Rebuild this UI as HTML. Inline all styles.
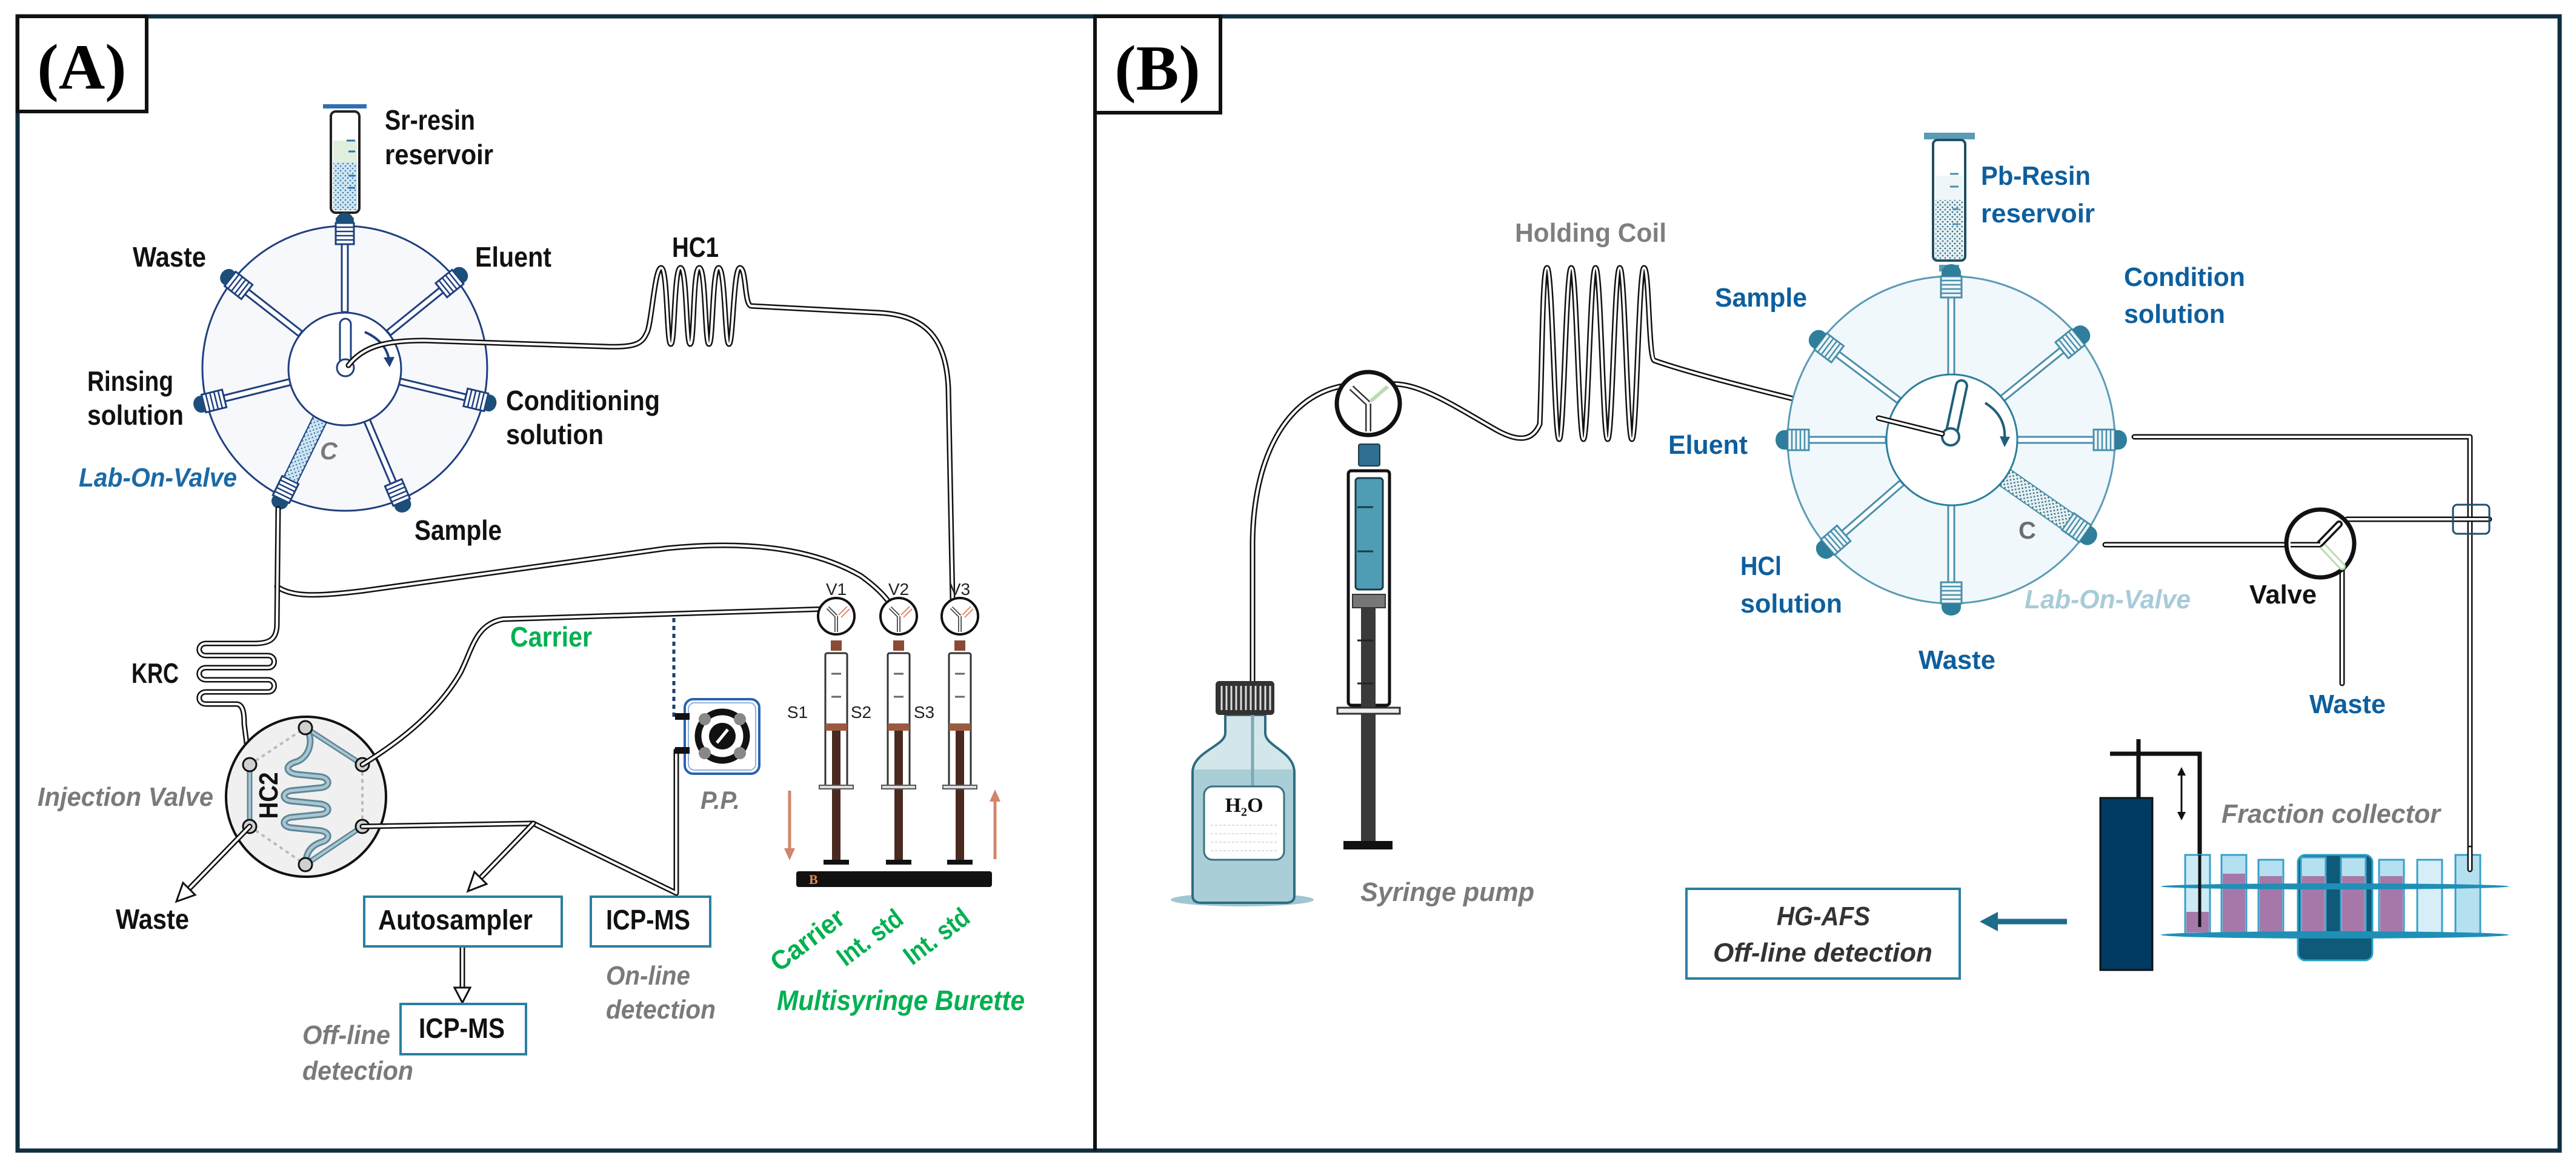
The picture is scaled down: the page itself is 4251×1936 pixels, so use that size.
<!DOCTYPE html>
<html><head><meta charset="utf-8"><style>
html,body{margin:0;padding:0;background:#fff}
svg{display:block}
text{font-family:"Liberation Sans",sans-serif;font-weight:bold}
.o{fill:none;stroke:#111;stroke-width:9;stroke-linecap:round;stroke-linejoin:round}
.i{fill:none;stroke:#fff;stroke-width:4;stroke-linecap:round;stroke-linejoin:round}
.gi{fill:#7a7a7a;font-style:italic}
.bl{fill:#0d5f9e}
.gr{fill:#00b050}
</style></head><body>
<svg width="4251" height="1936" viewBox="0 0 4251 1936" xmlns="http://www.w3.org/2000/svg">
<defs>
<pattern id="dots" width="8" height="8" patternUnits="userSpaceOnUse"><rect width="8" height="8" fill="#cfe6f2"/><circle cx="2" cy="2" r="1.3" fill="#3b78a8"/><circle cx="6" cy="6" r="1.3" fill="#3b78a8"/></pattern>
<pattern id="dotsB" width="8" height="8" patternUnits="userSpaceOnUse"><rect width="8" height="8" fill="#e6f1f5"/><circle cx="2" cy="2" r="1.4" fill="#3a6f80"/><circle cx="6" cy="6" r="1.4" fill="#3a6f80"/></pattern>
<g id="portA">
<rect x="93" y="-5" width="112" height="10" fill="#fff" stroke="#1f3f7f" stroke-width="3"/>
<rect x="205" y="-15" width="35" height="30" fill="#fff" stroke="#1f3f7f" stroke-width="3"/>
<path d="M212,-15v30M219,-15v30M226,-15v30M233,-15v30" stroke="#1f3f7f" stroke-width="2.5"/>
<path d="M240,-14h5a12,14 0 0 1 0,28h-5z" fill="#1b4f7a"/>
</g>
<g id="portB">
<rect x="108" y="-5" width="127" height="10" fill="#fff" stroke="#4a8fab" stroke-width="3"/>
<rect x="235" y="-17" width="35" height="34" fill="#eef6f9" stroke="#4a8fab" stroke-width="3"/>
<path d="M242,-17v34M249,-17v34M256,-17v34M263,-17v34" stroke="#4a8fab" stroke-width="2.5"/>
<path d="M270,-16h6a14,16 0 0 1 0,32h-6z" fill="#2f7e9b"/>
</g>
<g id="syrA">
<rect x="-9" y="1057" width="18" height="17" fill="#8b4a34"/>
<rect x="-18" y="1078" width="36" height="221" fill="#fff" stroke="#333" stroke-width="3" rx="3"/>
<path d="M-8,1112h16M-8,1150h16" stroke="#666" stroke-width="3"/>
<rect x="-18" y="1194" width="36" height="12" fill="#9b5a40"/>
<rect x="-7" y="1206" width="14" height="216" fill="#4a2a20"/>
<rect x="-28" y="1296" width="56" height="6" fill="#ddd" stroke="#555" stroke-width="2"/>
<rect x="-21" y="1419" width="42" height="8" fill="#111"/>
</g>
<g id="vA">
<circle r="30" fill="#fff" stroke="#111" stroke-width="4"/>
<path d="M0,0L-14,-14M0,0L0,26" stroke="#444" stroke-width="6"/>
<path d="M0,0L-14,-14M0,0L0,26" stroke="#fff" stroke-width="2.5"/>
<path d="M4,-2L18,-16M8,2L22,-12" stroke="#e58a6a" stroke-width="2"/>
</g>
<path id="tA1" d="M575,603 C600,570 640,562 700,562 L1000,572 C1050,574 1060,566 1067,550 C1075,540 1080,442 1091,442 C1102,442 1100,568 1107,568 C1114,568 1112,442 1123,442 C1134,442 1132,568 1139,568 C1146,568 1143,442 1154,442 C1165,442 1163,568 1170,568 C1177,568 1175,442 1186,442 C1197,442 1196,568 1203,568 C1210,568 1210,442 1221,442 C1232,442 1228,505 1240,505 L1449,516 C1530,520 1561,560 1565,640 L1572,990 L1575,1005"/>
<path id="tA2" d="M459,840 L457,1030 C457,1055 445,1062 420,1062 L340,1062 C325,1062 325,1082 340,1082 L442,1082 C456,1082 456,1102 442,1102 L340,1102 C325,1102 325,1122 340,1122 L442,1122 C456,1122 456,1142 442,1142 L340,1142 C325,1142 325,1162 340,1162 L390,1162 C402,1162 403,1180 403,1195 L410,1250"/>
<path id="tA3" d="M457,968 C480,985 520,985 600,975 L1100,905 C1250,890 1350,910 1420,950 C1455,975 1470,995 1478,1012"/>
<path id="tA4" d="M598,1262 C650,1230 720,1180 760,1110 C780,1070 785,1030 830,1022 L1365,1005"/>
<path id="tA5" d="M598,1364 L880,1359 L1116,1474 L1116,1239 L1135,1239"/>
<path id="tA6" d="M880,1359 L795,1447"/>
<path id="tA7" d="M412,1364 L312,1467"/>
<path id="tA8" d="M763,1562 L763,1630"/>
<path id="tB1" d="M2067,1124 L2067,900 C2067,760 2120,650 2222,636"/>
<path id="tB2" d="M2294,634 C2340,630 2400,670 2470,710 C2510,732 2530,725 2541,700 C2545,600 2545,442 2553,442 C2562,442 2565,725 2573,725 C2581,725 2584,442 2593,442 C2602,442 2605,725 2613,725 C2621,725 2624,442 2633,442 C2642,442 2645,725 2653,725 C2661,725 2664,442 2673,442 C2682,442 2685,725 2693,725 C2701,725 2704,442 2713,442 C2722,442 2720,590 2730,595 C2800,620 3000,670 3210,716"/>
<path id="tB3" d="M3522,721 L4076,721 L4076,1435"/>
<path id="tB4" d="M3474,899 L3777,899"/>
<path id="tB5" d="M3873,857 L4108,857"/>
<path id="tB6" d="M3865,941 L3865,1128"/>
</defs>

<rect x="29" y="27" width="4195" height="1872" fill="none" stroke="#0f2f3f" stroke-width="7"/>
<line x1="1807" y1="27" x2="1807" y2="1899" stroke="#111" stroke-width="6"/>
<rect x="29" y="27" width="213" height="157" fill="#fff" stroke="#111" stroke-width="6"/>
<text x="135" y="146" text-anchor="middle" font-size="106" style="font-family:'Liberation Serif',serif">(A)</text>
<rect x="1807" y="27" width="207" height="159" fill="#fff" stroke="#111" stroke-width="6"/>
<text x="1910" y="148" text-anchor="middle" font-size="106" style="font-family:'Liberation Serif',serif">(B)</text>

<!-- ===== Panel A ===== -->
<rect x="533" y="172" width="72" height="7" fill="#2e6fb5"/>
<rect x="546" y="184" width="47" height="167" rx="8" fill="#fff" stroke="#222" stroke-width="4"/>
<rect x="550" y="232" width="39" height="36" fill="#e0f0dc"/>
<rect x="550" y="268" width="39" height="79" fill="url(#dots)"/>
<path d="M572,232h14M575,250h11M575,290h11M575,310h11" stroke="#2e6fb5" stroke-width="3"/>
<rect x="554" y="359" width="30" height="11" fill="#2e6fb5"/>
<text x="635" y="214" font-size="46" textLength="149" lengthAdjust="spacingAndGlyphs" fill="#111">Sr-resin</text>
<text x="635" y="271" font-size="46" textLength="179" lengthAdjust="spacingAndGlyphs" fill="#111">reservoir</text>

<circle cx="569" cy="608" r="235" fill="#f7f8fb" stroke="#1f3f7f" stroke-width="3"/>
<use href="#portA" transform="translate(569,608) rotate(-90)"/>
<use href="#portA" transform="translate(569,608) rotate(-142)"/>
<use href="#portA" transform="translate(569,608) rotate(-39)"/>
<use href="#portA" transform="translate(569,608) rotate(166)"/>
<use href="#portA" transform="translate(569,608) rotate(13.5)"/>
<use href="#portA" transform="translate(569,608) rotate(67)"/>
<use href="#portA" transform="translate(569,608) rotate(116)"/>
<rect x="93" y="-12" width="112" height="24" fill="url(#dots)" stroke="#1f3f7f" stroke-width="2" transform="translate(569,608) rotate(116)"/>
<circle cx="569" cy="609" r="93" fill="#fff" stroke="#1f3f7f" stroke-width="3"/>
<rect x="561" y="526" width="18" height="82" rx="9" fill="#fff" stroke="#1f3f7f" stroke-width="3"/>
<circle cx="570" cy="607" r="14" fill="#fff" stroke="#1f3f7f" stroke-width="3"/>
<path d="M602,548 C625,558 640,575 642,595" fill="none" stroke="#1f3f7f" stroke-width="4"/>
<path d="M633,590 L643,606 L651,589 z" fill="#1f3f7f"/>
<use href="#tA1" class="o"/><use href="#tA1" class="i"/>
<text x="219" y="440" font-size="46" textLength="121" lengthAdjust="spacingAndGlyphs" fill="#111">Waste</text>
<text x="784" y="440" font-size="46" textLength="126" lengthAdjust="spacingAndGlyphs" fill="#111">Eluent</text>
<text x="144" y="645" font-size="46" textLength="142" lengthAdjust="spacingAndGlyphs" fill="#111">Rinsing</text>
<text x="144" y="701" font-size="46" textLength="159" lengthAdjust="spacingAndGlyphs" fill="#111">solution</text>
<text x="835" y="677" font-size="46" textLength="254" lengthAdjust="spacingAndGlyphs" fill="#111">Conditioning</text>
<text x="835" y="733" font-size="46" textLength="161" lengthAdjust="spacingAndGlyphs" fill="#111">solution</text>
<text x="528" y="758" font-size="40" class="gi" fill="#6d6d6d">C</text>
<text x="130" y="803" font-size="44" textLength="261" lengthAdjust="spacingAndGlyphs" fill="#1a6aa6" font-style="italic">Lab-On-Valve</text>
<text x="684" y="891" font-size="46" textLength="144" lengthAdjust="spacingAndGlyphs" fill="#111">Sample</text>
<text x="1109" y="424" font-size="46" textLength="77" lengthAdjust="spacingAndGlyphs" fill="#111">HC1</text>

<use href="#tA3" class="o"/><use href="#tA3" class="i"/>
<use href="#tA2" class="o"/><use href="#tA2" class="i"/>
<text x="217" y="1127" font-size="46" textLength="78" lengthAdjust="spacingAndGlyphs" fill="#111">KRC</text>

<circle cx="505" cy="1315" r="132" fill="#f0f0f0" stroke="#111" stroke-width="4"/>
<path d="M412,1262L504,1201M598,1262L598,1364M412,1364L504,1427" stroke="#bbb" stroke-width="4" stroke-dasharray="6 6"/>
<path d="M412,1262L412,1364M504,1201L598,1262M598,1364L504,1427" stroke="#5f8797" stroke-width="9" fill="none"/>
<path d="M412,1262L412,1364M504,1201L598,1262M598,1364L504,1427" stroke="#a9c6d2" stroke-width="4" fill="none"/>
<path d="M504,1201 C520,1220 510,1250 490,1257 C470,1262 470,1275 490,1278 L530,1282 C545,1285 545,1298 530,1300 L480,1305 C465,1308 465,1320 480,1322 L530,1327 C545,1330 545,1342 530,1344 L480,1349 C465,1352 465,1364 480,1366 L530,1371 C545,1374 545,1386 530,1390 C515,1395 505,1405 504,1427" fill="none" stroke="#5f8797" stroke-width="11"/>
<path d="M504,1201 C520,1220 510,1250 490,1257 C470,1262 470,1275 490,1278 L530,1282 C545,1285 545,1298 530,1300 L480,1305 C465,1308 465,1320 480,1322 L530,1327 C545,1330 545,1342 530,1344 L480,1349 C465,1352 465,1364 480,1366 L530,1371 C545,1374 545,1386 530,1390 C515,1395 505,1405 504,1427" fill="none" stroke="#a9c6d2" stroke-width="5"/>
<g fill="#d0d0d0" stroke="#111" stroke-width="3">
<circle cx="504" cy="1201" r="11"/><circle cx="412" cy="1262" r="11"/><circle cx="598" cy="1262" r="11"/>
<circle cx="412" cy="1364" r="11"/><circle cx="598" cy="1364" r="11"/><circle cx="504" cy="1427" r="11"/>
</g>
<text transform="translate(458,1313) rotate(-90)" text-anchor="middle" font-size="44" textLength="77" lengthAdjust="spacingAndGlyphs" fill="#111">HC2</text>
<text x="62" y="1330" font-size="44" textLength="290" lengthAdjust="spacingAndGlyphs" class="gi">Injection Valve</text>
<use href="#tA4" class="o"/><use href="#tA4" class="i"/>
<use href="#tA5" class="o"/><use href="#tA5" class="i"/>
<use href="#tA6" class="o"/><use href="#tA6" class="i"/>
<use href="#tA7" class="o"/><use href="#tA7" class="i"/>
<use href="#tA8" class="o"/><use href="#tA8" class="i"/>
<polygon points="291,1488 322,1477 302,1457" fill="#fff" stroke="#111" stroke-width="3"/>
<polygon points="772,1471 803,1459 783,1439" fill="#fff" stroke="#111" stroke-width="3"/>
<polygon points="763,1655 750,1630 776,1630" fill="#fff" stroke="#111" stroke-width="3"/>
<text x="191" y="1533" font-size="46" textLength="121" lengthAdjust="spacingAndGlyphs" fill="#111">Waste</text>
<text x="842" y="1067" font-size="46" textLength="135" lengthAdjust="spacingAndGlyphs" class="gr">Carrier</text>

<rect x="601" y="1480" width="326" height="82" fill="#fff" stroke="#2a7fa0" stroke-width="4"/>
<text x="624" y="1534" font-size="46" textLength="255" lengthAdjust="spacingAndGlyphs" fill="#111">Autosampler</text>
<rect x="975" y="1480" width="197" height="82" fill="#fff" stroke="#2a7fa0" stroke-width="4"/>
<text x="1000" y="1534" font-size="46" textLength="139" lengthAdjust="spacingAndGlyphs" fill="#111">ICP-MS</text>
<rect x="661" y="1657" width="207" height="83" fill="#fff" stroke="#2a7fa0" stroke-width="4"/>
<text x="691" y="1713" font-size="46" textLength="142" lengthAdjust="spacingAndGlyphs" fill="#111">ICP-MS</text>
<text x="499" y="1723" font-size="44" textLength="145" lengthAdjust="spacingAndGlyphs" class="gi">Off-line</text>
<text x="499" y="1782" font-size="44" textLength="183" lengthAdjust="spacingAndGlyphs" class="gi">detection</text>
<text x="1000" y="1625" font-size="44" textLength="139" lengthAdjust="spacingAndGlyphs" class="gi">On-line</text>
<text x="1000" y="1681" font-size="44" textLength="181" lengthAdjust="spacingAndGlyphs" class="gi">detection</text>

<path d="M1112,1020 L1112,1183 L1135,1183" fill="none" stroke="#1f3f6f" stroke-width="5" stroke-dasharray="7 6"/>
<rect x="1130" y="1154" width="123" height="123" rx="14" fill="#fff" stroke="#2a63b0" stroke-width="4"/>
<rect x="1136" y="1160" width="111" height="111" rx="10" fill="none" stroke="#8fb0d8" stroke-width="2"/>
<circle cx="1192" cy="1215" r="40" fill="#fff" stroke="#111" stroke-width="11"/>
<circle cx="1192" cy="1215" r="22" fill="#111"/>
<line x1="1183" y1="1226" x2="1201" y2="1204" stroke="#fff" stroke-width="5"/>
<rect x="1114" y="1177" width="24" height="11" fill="#111"/>
<rect x="1114" y="1233" width="24" height="11" fill="#111"/>
<g fill="#888"><circle cx="1163" cy="1187" r="10"/><circle cx="1221" cy="1187" r="10"/><circle cx="1163" cy="1243" r="10"/><circle cx="1221" cy="1243" r="10"/></g>
<text x="1156" y="1335" font-size="42" textLength="65" lengthAdjust="spacingAndGlyphs" class="gi">P.P.</text>

<use href="#syrA" transform="translate(1380,0)"/>
<use href="#syrA" transform="translate(1483,0)"/>
<use href="#syrA" transform="translate(1584,0)"/>
<use href="#vA" transform="translate(1380,1017)"/>
<use href="#vA" transform="translate(1483,1017)"/>
<use href="#vA" transform="translate(1584,1017)"/>
<g font-size="28" fill="#222" style="font-family:'Liberation Serif',serif;font-weight:normal" text-anchor="middle">
<text x="1380" y="982" style="font-weight:normal">V1</text><text x="1483" y="982" style="font-weight:normal">V2</text><text x="1584" y="982" style="font-weight:normal">V3</text>
<text x="1316" y="1185" style="font-weight:normal">S1</text><text x="1421" y="1185" style="font-weight:normal">S2</text><text x="1525" y="1185" style="font-weight:normal">S3</text>
</g>
<rect x="1314" y="1438" width="323" height="26" rx="4" fill="#111"/>
<text x="1335" y="1459" font-size="22" fill="#e8874f" style="font-family:'Liberation Serif',serif">B</text>
<line x1="1303" y1="1305" x2="1303" y2="1402" stroke="#d0866b" stroke-width="5"/>
<polygon points="1303,1420 1294,1400 1312,1400" fill="#d0866b"/>
<line x1="1642" y1="1418" x2="1642" y2="1320" stroke="#d0866b" stroke-width="5"/>
<polygon points="1642,1303 1633,1323 1651,1323" fill="#d0866b"/>
<text transform="translate(1333,1552) rotate(-37)" dy="14" text-anchor="middle" font-size="44" textLength="140" lengthAdjust="spacingAndGlyphs" class="gr">Carrier</text>
<text transform="translate(1436,1548) rotate(-37)" dy="14" text-anchor="middle" font-size="44" textLength="123" lengthAdjust="spacingAndGlyphs" class="gr">Int. std</text>
<text transform="translate(1546,1546) rotate(-37)" dy="14" text-anchor="middle" font-size="44" textLength="123" lengthAdjust="spacingAndGlyphs" class="gr">Int. std</text>
<text x="1282" y="1667" font-size="46" textLength="409" lengthAdjust="spacingAndGlyphs" class="gr" font-style="italic">Multisyringe Burette</text>

<!-- ===== Panel B ===== -->
<text x="2500" y="399" font-size="44" textLength="250" lengthAdjust="spacingAndGlyphs" fill="#7f7f7f">Holding Coil</text>
<use href="#tB1" class="o"/><use href="#tB1" class="i"/>
<use href="#tB2" class="o"/><use href="#tB2" class="i"/>
<circle cx="2258" cy="666" r="52" fill="#fff" stroke="#111" stroke-width="7"/>
<path d="M2258,666L2230,640M2258,666L2258,712" stroke="#333" stroke-width="10"/>
<path d="M2258,666L2230,640M2258,666L2258,712" stroke="#fff" stroke-width="5"/>
<path d="M2262,662L2290,638" stroke="#b8dcb0" stroke-width="6"/>
<rect x="2242" y="733" width="35" height="36" rx="3" fill="#2f6f8f" stroke="#1a3a4a" stroke-width="2"/>
<rect x="2225" y="777" width="68" height="387" rx="5" fill="#fff" stroke="#111" stroke-width="5"/>
<rect x="2237" y="789" width="45" height="184" rx="5" fill="#4f9db5" stroke="#1a3a4a" stroke-width="3"/>
<path d="M2240,837h26M2240,910h26" stroke="#1a3a4a" stroke-width="3"/>
<rect x="2232" y="981" width="54" height="22" fill="#777" stroke="#333" stroke-width="2"/>
<rect x="2246" y="1003" width="24" height="385" fill="#3a3a3a"/>
<path d="M2240,1057h26M2240,1128h26" stroke="#222" stroke-width="3"/>
<rect x="2207" y="1168" width="103" height="10" fill="#eee" stroke="#333" stroke-width="3"/>
<rect x="2217" y="1388" width="81" height="14" fill="#111"/>
<text x="2245" y="1487" font-size="44" textLength="287" lengthAdjust="spacingAndGlyphs" class="gi">Syringe pump</text>
<ellipse cx="2050" cy="1485" rx="118" ry="11" fill="#9fc6d2"/>
<path d="M2022,1180 L2022,1210 C2022,1232 1968,1240 1968,1275 L1968,1478 Q1968,1490 1982,1490 L2122,1490 Q2136,1490 2136,1478 L2136,1275 C2136,1240 2088,1232 2088,1210 L2088,1180 Z" fill="#d3e6ea" stroke="#2d6d80" stroke-width="4"/>
<path d="M1970,1270 L2134,1270 L2134,1478 Q2134,1488 2122,1488 L1982,1488 Q1970,1488 1970,1478 Z" fill="#a9ced7"/>
<line x1="2067" y1="1180" x2="2067" y2="1300" stroke="#7fa8b3" stroke-width="5"/>
<rect x="2006" y="1124" width="97" height="56" rx="6" fill="#333"/>
<path d="M2016,1132v40M2024,1132v40M2032,1132v40M2040,1132v40M2048,1132v40M2056,1132v40M2064,1132v40M2072,1132v40M2080,1132v40M2088,1132v40M2096,1132v40" stroke="#ddd" stroke-width="3"/>
<rect x="1987" y="1298" width="132" height="121" rx="14" fill="#fff" stroke="#3a7080" stroke-width="3"/>
<path d="M1998,1362h110M1998,1376h110M1998,1390h110M1998,1404h110" stroke="#ddd" stroke-width="2" stroke-dasharray="4 3"/>
<text x="2053" y="1340" text-anchor="middle" font-size="34" fill="#111" style="font-family:'Liberation Serif',serif">H₂O</text>

<rect x="3175" y="219" width="84" height="11" fill="#5b9bb5"/>
<rect x="3190" y="231" width="53" height="199" rx="7" fill="#fff" stroke="#1f4f62" stroke-width="4"/>
<rect x="3194" y="290" width="45" height="40" fill="#eef6f8"/>
<rect x="3194" y="330" width="45" height="97" fill="url(#dotsB)"/>
<path d="M3218,287h14M3218,308h14M3222,345h10M3222,370h10" stroke="#4a8fab" stroke-width="3"/>
<rect x="3200" y="437" width="33" height="11" fill="#5b9bb5"/>
<text x="3269" y="305" font-size="44" textLength="181" lengthAdjust="spacingAndGlyphs" class="bl">Pb-Resin</text>
<text x="3269" y="367" font-size="44" textLength="188" lengthAdjust="spacingAndGlyphs" class="bl">reservoir</text>

<circle cx="3220" cy="726" r="270" fill="#f1f8fb" stroke="#5b9bb5" stroke-width="3"/>
<use href="#portB" transform="translate(3220,726) rotate(-90)"/>
<use href="#portB" transform="translate(3220,726) rotate(-39)"/>
<use href="#portB" transform="translate(3220,726) rotate(0)"/>
<use href="#portB" transform="translate(3220,726) rotate(35)"/>
<use href="#portB" transform="translate(3220,726) rotate(90)"/>
<use href="#portB" transform="translate(3220,726) rotate(139)"/>
<use href="#portB" transform="translate(3220,726) rotate(180)"/>
<use href="#portB" transform="translate(3220,726) rotate(-143)"/>
<rect x="108" y="-16" width="127" height="32" fill="url(#dotsB)" stroke="#4a8fab" stroke-width="2" transform="translate(3220,726) rotate(35)"/>
<circle cx="3221" cy="726" r="108" fill="#fff" stroke="#2d7f9c" stroke-width="3"/>
<rect x="-9" y="-95" width="18" height="95" rx="9" fill="#fff" stroke="#1f5f7a" stroke-width="4" transform="translate(3219,721) rotate(12)"/>
<circle cx="3219" cy="721" r="14" fill="#fff" stroke="#1f5f7a" stroke-width="4"/>
<path d="M3276,665 C3300,680 3310,700 3308,725" fill="none" stroke="#1f5f7a" stroke-width="4"/>
<path d="M3300,720 L3308,738 L3317,721 z" fill="#1f5f7a"/>
<path d="M3100,690 L3205,716" class="o"/><path d="M3100,690 L3205,716" class="i"/>
<text x="2830" y="506" font-size="44" textLength="152" lengthAdjust="spacingAndGlyphs" class="bl">Sample</text>
<text x="2753" y="749" font-size="44" textLength="131" lengthAdjust="spacingAndGlyphs" class="bl">Eluent</text>
<text x="2872" y="949" font-size="44" textLength="68" lengthAdjust="spacingAndGlyphs" class="bl">HCl</text>
<text x="2872" y="1011" font-size="44" textLength="168" lengthAdjust="spacingAndGlyphs" class="bl">solution</text>
<text x="3505" y="472" font-size="44" textLength="200" lengthAdjust="spacingAndGlyphs" class="bl">Condition</text>
<text x="3505" y="533" font-size="44" textLength="167" lengthAdjust="spacingAndGlyphs" class="bl">solution</text>
<text x="3166" y="1104" font-size="44" textLength="127" lengthAdjust="spacingAndGlyphs" class="bl">Waste</text>
<text x="3331" y="889" font-size="40" fill="#6d6d6d">C</text>
<text x="3341" y="1004" font-size="44" textLength="274" lengthAdjust="spacingAndGlyphs" fill="#a8cbd8" font-style="italic">Lab-On-Valve</text>

<use href="#tB3" class="o"/><use href="#tB3" class="i"/>
<use href="#tB4" class="o"/><use href="#tB4" class="i"/>
<use href="#tB5" class="o"/><use href="#tB5" class="i"/>
<use href="#tB6" class="o"/><use href="#tB6" class="i"/>
<rect x="4048" y="833" width="60" height="48" rx="7" fill="none" stroke="#1d4f6a" stroke-width="3"/>
<circle cx="3829" cy="897" r="56" fill="#fff" stroke="#111" stroke-width="7"/>
<path d="M3829,897L3865,935" stroke="#b8dcb0" stroke-width="12" stroke-linecap="round"/>
<path d="M3829,897L3865,935" stroke="#fff" stroke-width="6" stroke-linecap="round"/>
<path d="M3829,897L3860,865" stroke="#111" stroke-width="12" stroke-linecap="round"/>
<path d="M3829,897L3860,865" stroke="#fff" stroke-width="5" stroke-linecap="round"/>
<path d="M3780,899L3829,899" stroke="#111" stroke-width="9"/><path d="M3780,899L3829,899" stroke="#fff" stroke-width="4"/>
<text x="3712" y="996" font-size="44" textLength="111" lengthAdjust="spacingAndGlyphs" fill="#111">Valve</text>
<text x="3811" y="1177" font-size="44" textLength="126" lengthAdjust="spacingAndGlyphs" class="bl">Waste</text>

<rect x="3466" y="1317" width="86" height="284" fill="#003a63" stroke="#111" stroke-width="3"/>
<path d="M3529,1220 L3529,1317 M3482,1244 L3630,1244 L3630,1411" fill="none" stroke="#111" stroke-width="7"/>
<line x1="3600" y1="1276" x2="3600" y2="1344" stroke="#111" stroke-width="3"/>
<polygon points="3600,1266 3593,1280 3607,1280" fill="#111"/>
<polygon points="3600,1354 3593,1340 3607,1340" fill="#111"/>
<text x="3666" y="1358" font-size="44" textLength="361" lengthAdjust="spacingAndGlyphs" class="gi">Fraction collector</text>
<rect x="3792" y="1411" width="123" height="174" rx="12" fill="#0e5a78" stroke="#2aa0c8" stroke-width="3"/>
<g stroke="#3aa0c8" stroke-width="3">
<rect x="3606" y="1411" width="41" height="130" fill="#cdeaf5"/><rect x="3608" y="1505" width="37" height="34" fill="#a678aa" stroke="none"/>
<rect x="3666" y="1411" width="41" height="130" fill="#b5e0f0"/><rect x="3668" y="1442" width="37" height="97" fill="#a678aa" stroke="none"/>
<rect x="3727" y="1419" width="41" height="122" fill="#b5e0f0"/><rect x="3729" y="1446" width="37" height="93" fill="#a678aa" stroke="none"/>
<rect x="3797" y="1415" width="41" height="126" fill="#b5e0f0"/><rect x="3799" y="1446" width="37" height="93" fill="#a678aa" stroke="none"/>
<rect x="3863" y="1415" width="41" height="126" fill="#b5e0f0"/><rect x="3865" y="1446" width="37" height="93" fill="#a678aa" stroke="none"/>
<rect x="3926" y="1419" width="41" height="122" fill="#b5e0f0"/><rect x="3928" y="1446" width="37" height="93" fill="#a678aa" stroke="none"/>
<rect x="3989" y="1419" width="41" height="122" fill="#d6eef8"/>
<rect x="4052" y="1411" width="41" height="130" fill="#b5e0f0"/>
</g>
<ellipse cx="3853" cy="1463" rx="287" ry="5" fill="#1f8fb5"/>
<ellipse cx="3853" cy="1543" rx="287" ry="6" fill="#1f8fb5"/>
<path d="M3630,1411 L3630,1530" stroke="#111" stroke-width="5"/>
<path d="M4076,1400 L4076,1435" class="o"/><path d="M4076,1400 L4076,1435" class="i"/>

<rect x="2783" y="1467" width="451" height="148" fill="#fff" stroke="#2a7fa0" stroke-width="4"/>
<text x="3009" y="1527" text-anchor="middle" font-size="44" textLength="154" lengthAdjust="spacingAndGlyphs" fill="#333" font-style="italic">HG-AFS</text>
<text x="2827" y="1587" font-size="44" textLength="362" lengthAdjust="spacingAndGlyphs" fill="#333" font-style="italic">Off-line detection</text>
<line x1="3411" y1="1521" x2="3290" y2="1521" stroke="#1f6b8a" stroke-width="9"/>
<polygon points="3267,1521 3297,1505 3297,1537" fill="#1f6b8a"/>
</svg>
</body></html>
